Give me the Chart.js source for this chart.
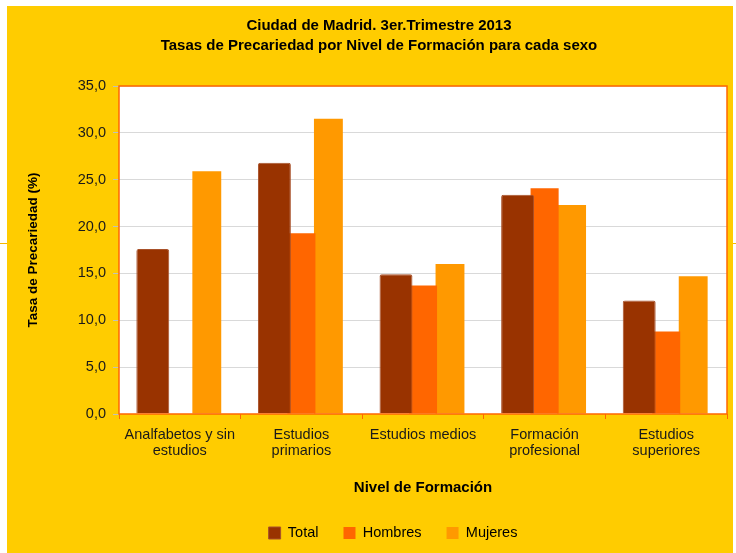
<!DOCTYPE html>
<html>
<head>
<meta charset="utf-8">
<script src="https://cdn.jsdelivr.net/npm/chart.js@4.4.1/dist/chart.umd.min.js"></script>
<style>
  html, body { margin: 0; padding: 0; background: #ffffff; }
  #wrap { width: 736px; height: 553px; }
</style>
</head>
<body>
<div id="wrap"><canvas id="c" width="736" height="553"></canvas></div>
<script>
const titleLines = ["Ciudad de Madrid. 3er.Trimestre 2013", "Tasas de Precariedad por Nivel de Formación para cada sexo"];
const categories = [["Analfabetos y sin", "estudios"], ["Estudios", "primarios"], "Estudios medios", ["Formación", "profesional"], ["Estudios", "superiores"]];
const seriesNames = ["Total", "Hombres", "Mujeres"];
const totalValues = [17.6, 26.8, 14.9, 23.4, 12.1];
const hombresValues = [null, 19.3, 13.7, 24.1, 8.8];
const mujeresValues = [25.9, 31.5, 16.0, 22.3, 14.7];
const yTickValues = [0, 5, 10, 15, 20, 25, 30, 35];
const yAxisTitle = "Tasa de Precariedad (%)";
const xAxisTitle = "Nivel de Formación";

const FONT = "'Liberation Sans', Arial, sans-serif";
const ORANGE = "#FF6600";

const bgPlugin = {
  id: 'bg',
  beforeDraw(chart) {
    const ctx = chart.ctx;
    const a = chart.chartArea;
    ctx.save();
    ctx.fillStyle = '#ffffff';
    ctx.fillRect(0, 0, chart.width, chart.height);
    ctx.fillStyle = '#FFCC00';
    ctx.fillRect(7, 6, 726, 547);
    ctx.fillStyle = '#ffffff';
    ctx.fillRect(a.left, a.top, a.right - a.left, a.bottom - a.top);
    ctx.strokeStyle = '#F5B800';
    ctx.lineWidth = 1;
    ctx.beginPath();
    ctx.moveTo(0, 243.5); ctx.lineTo(7, 243.5);
    ctx.moveTo(733, 243.5); ctx.lineTo(736, 243.5);
    ctx.stroke();
    ctx.restore();
  },
  afterDatasetsDraw(chart) {
    const ctx = chart.ctx;
    const a = chart.chartArea;
    ctx.save();
    ctx.strokeStyle = ORANGE;
    ctx.lineWidth = 1.5;
    ctx.strokeRect(a.left, a.top, a.right - a.left, a.bottom - a.top);
    ctx.restore();
  },
  afterLayout(chart) {
    if (chart.legend) {
      chart.legend.left += 26;
      chart.legend.right += 26;
    }
    if (chart.titleBlock) {
      chart.titleBlock.left += 12;
      chart.titleBlock.right += 12;
    }
  }
};

new Chart(document.getElementById('c'), {
  type: 'bar',
  data: {
    labels: categories,
    datasets: [
      { label: seriesNames[0], data: totalValues, backgroundColor: '#993300', borderColor: '#A8512A', borderWidth: 1, borderRadius: 2, borderSkipped: 'bottom', barPercentage: 1.22 },
      { label: seriesNames[1], data: hombresValues, backgroundColor: ORANGE, borderWidth: 0, barPercentage: 1.04 },
      { label: seriesNames[2], data: mujeresValues, backgroundColor: '#FF9900', borderWidth: 0, barPercentage: 1.07 }
    ]
  },
  options: {
    responsive: false,
    animation: false,
    devicePixelRatio: 1,
    layout: { padding: { left: 7, right: 9, top: 6, bottom: 2.75 } },
    datasets: { bar: { categoryPercentage: 0.666 } },
    plugins: {
      title: {
        display: true,
        text: titleLines,
        color: '#000000',
        font: { family: FONT, size: 15, weight: 'bold', lineHeight: 1.3 },
        padding: { top: 10.25, bottom: 30.75 }
      },
      legend: {
        position: 'bottom',
        labels: {
          color: '#000000',
          font: { family: FONT, size: 14.5 },
          boxWidth: 12,
          boxHeight: 12,
          padding: 25
        }
      },
      tooltip: { enabled: false }
    },
    scales: {
      x: {
        afterFit(scale) { scale.height = 86.75; },
        grid: { display: true, drawOnChartArea: false, drawTicks: true, tickLength: 5, color: ORANGE, offset: true },
        border: { display: false },
        ticks: { color: '#1a1a1a', font: { family: FONT, size: 14.5, lineHeight: 1.12 }, padding: 8, maxRotation: 0, autoSkip: false },
        title: { display: true, text: xAxisTitle, color: '#000000', font: { family: FONT, size: 15, weight: 'bold', lineHeight: 1.2 }, padding: { top: 0, bottom: 3.75 } }
      },
      y: {
        min: 0,
        max: 35,
        afterFit(scale) { scale.width = 112; },
        afterBuildTicks(scale) { scale.ticks = yTickValues.map(v => ({ value: v })); },
        grid: {
          color: (c) => (c.tick && c.tick.value === 0) ? 'rgba(0,0,0,0)' : '#D9D9D9',
          tickColor: '#BFBFBF',
          tickLength: 6,
          lineWidth: 1
        },
        border: { display: false },
        ticks: {
          color: '#1a1a1a',
          font: { family: FONT, size: 14.5 },
          padding: 7,
          callback: (v) => Number(v).toFixed(1).replace('.', ',')
        },
        title: { display: true, text: yAxisTitle, color: '#000000', font: { family: FONT, size: 13.5, weight: 'bold', lineHeight: 1.2 }, padding: { top: 17.9, bottom: 0 } }
      }
    }
  },
  plugins: [bgPlugin]
});
</script>
</body>
</html>
